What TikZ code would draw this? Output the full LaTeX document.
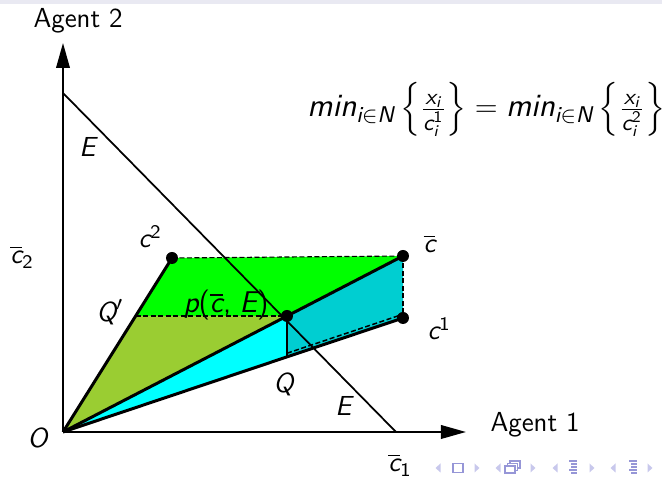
\documentclass[tikz,border=0pt]{standalone}
\usepackage{amsmath}
\usetikzlibrary{arrows.meta}
\definecolor{cgreen}{RGB}{0,255,0}
\definecolor{colive}{RGB}{154,205,50}
\definecolor{ccyan}{RGB}{0,255,255}
\definecolor{cturq}{RGB}{0,206,209}
\definecolor{navc}{RGB}{200,200,236}
\definecolor{navd}{RGB}{150,150,215}
\definecolor{topbar}{RGB}{233,233,242}
\newcommand{\mysl}[1]{\text{\sffamily\itshape #1}}
\newcommand{\myup}[1]{\text{\sffamily\upshape #1}}
\begin{document}
\begin{tikzpicture}[x=0.4pt,y=-0.4pt,
  lbl/.style={inner sep=0pt, anchor=base west, font=\fontsize{11}{13}\selectfont\sffamily},
  biglbl/.style={lbl, font=\fontsize{12}{14}\selectfont\sffamily},
  formulalbl/.style={lbl, font=\fontsize{13}{15}\selectfont\sffamily},
  axisline/.style={line width=0.8pt, -{Triangle[length=10pt,width=5.4pt]}},
  rayline/.style={line width=1.2pt},
  budget/.style={line width=0.7pt},
  dashedge/.style={line width=0.45pt, dashed, dash pattern=on 2pt off 1pt},
  dotnode/.style={circle, fill=black, inner sep=0pt, minimum size=4.8pt},
  navtri/.style={fill=navc},
  navbox/.style={draw=navd, line width=0.45pt}]
\useasboundingbox (0,0) rectangle (662,477);
\fill[topbar] (0,0) rectangle (662,4);
% geometry
\coordinate (O) at (63,432);
\coordinate (c2) at (172,258);
\coordinate (cb) at (403,256);
\coordinate (c1) at (403,318);
\coordinate (p) at (287,316);
\coordinate (Qp) at (135.7,316);
\coordinate (Q) at (287,357);
\coordinate (ytip) at (63,43);
\coordinate (xtip) at (466,432);
\coordinate (Etop) at (63,93);
\coordinate (Ebot) at (396,432);
% fills
\fill[cgreen] (c2)--(cb)--(p)--(Qp)--cycle;
\fill[colive] (O)--(Qp)--(p)--cycle;
\fill[ccyan] (O)--(p)--(Q)--cycle;
\fill[cturq] (p)--(cb)--(c1)--(Q)--cycle;
% dashed edges
\draw[dashedge] (c2)--(cb);
\draw[dashedge] (cb)--(c1);
\draw[dashedge] (Qp)--(p);
\draw[line width=0.7pt] (p)--(Q);
% rays
\draw[rayline] (O)--(c2);
\draw[rayline] (O)--(cb);
\draw[rayline] (O)--(c1);
\draw[dashedge, line width=0.6pt] ([yshift=1.5]Q)--([yshift=1.5]c1);
% axes
\draw[axisline] (O)--(ytip);
\draw[axisline] (O)--(xtip);
% budget line
\draw[budget] (Etop)--(Ebot);
% dots
\node[dotnode] (dc2) at (c2) {};
\node[dotnode] (dcb) at (cb) {};
\node[dotnode] (dc1) at (c1) {};
\node[dotnode] (dp) at (p) {};
% labels
\node[lbl] (ag2) at (33,28) {Agent 2};
\node[lbl] (ag1) at (490,432) {Agent 1};
\node[lbl] (lO) at (27,448) {$\mysl{O}$};
\node[lbl] (lE1) at (79,157) {$\mysl{E}$};
\node[lbl] (lE2) at (335,416) {$\mysl{E}$};
\node[lbl] (lc2b) at (10,264) {$\overline{\mysl{c}}_{\myup{2}}$};
\node[lbl] (lc1b) at (388,472) {$\overline{\mysl{c}}_{\myup{1}}$};
\node[lbl] (lc2) at (138,248) {$\mysl{c}^{\myup{2}}$};
\node[lbl] (lQp) at (96,322) {$\mysl{Q}'$};
\node[biglbl] (lp) at (183,313) {$\mysl{p}\myup{(}\overline{\mysl{c}}\myup{,}\;\mysl{E}\myup{)}$};
\node[lbl] (lcb) at (423,253) {$\overline{\mysl{c}}$};
\node[lbl] (lc1) at (427,340) {$\mysl{c}^{\myup{1}}$};
\node[lbl] (lQ) at (273,393) {$\mysl{Q}$};
\node[formulalbl] (formula) at (307,117) {$\mysl{min}_{\mysl{i}\in \mysl{N}}\left\{\frac{\mysl{x}_{\mysl{i}}}{\mysl{c}_{\mysl{i}}^{\myup{1}}}\right\} = \mysl{min}_{\mysl{i}\in \mysl{N}}\left\{\frac{\mysl{x}_{\mysl{i}}}{\mysl{c}_{\mysl{i}}^{\myup{2}}}\right\}$};
% navigation symbols
\foreach \x in {438,498,555,613} {\fill[navtri] (\x+2.5,463.5)--(\x-2.5,468)--(\x+2.5,472.5)--cycle;}
\foreach \x in {477,533,592,650} {\fill[navtri] (\x-2.5,463.5)--(\x+2.5,468)--(\x-2.5,472.5)--cycle;}
\draw[navbox] (453,463.5) rectangle (463,472.5);
\draw[navbox,fill=white] (510,461) rectangle (520,468);
\draw[navbox,fill=white] (507.5,463.5) rectangle (517.5,470.5);
\draw[navbox,fill=white] (505,466) rectangle (515,473);
\foreach \x in {573,633} {
  \draw[navbox] (\x-4,461)--(\x+4,461);
  \draw[navbox] (\x-2,464)--(\x+4,464);
  \draw[navbox] (\x-2,467)--(\x+4,467);
  \draw[navbox] (\x-4,470)--(\x+4,470);
  \draw[navbox] (\x-2,473)--(\x+4,473);
}
\end{tikzpicture}
\end{document}
